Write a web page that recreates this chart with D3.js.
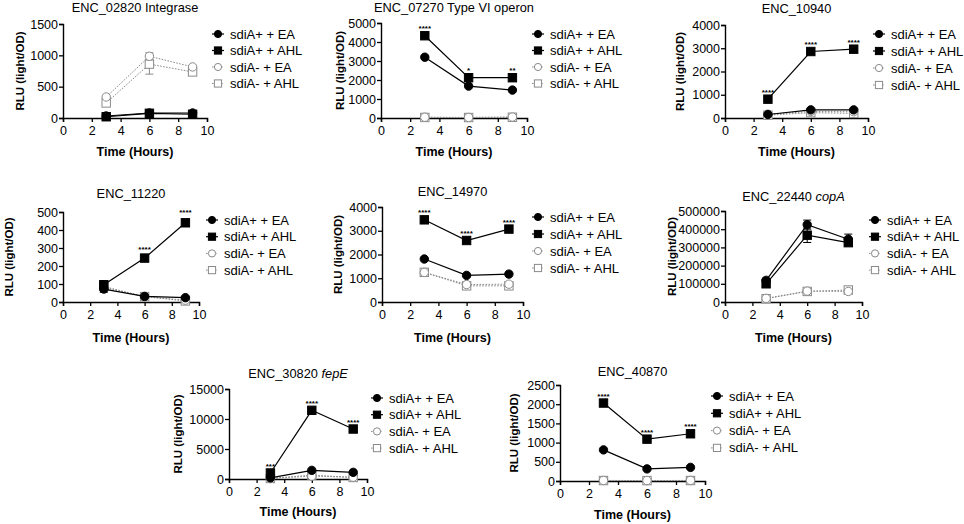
<!DOCTYPE html>
<html>
<head>
<meta charset="utf-8">
<script src="https://cdn.jsdelivr.net/npm/d3@7"></script>
<style>
  body { margin: 0; background: #fff; }
  svg { display: block; font-family: "Liberation Sans", Arial, Helvetica, sans-serif; }
</style>
</head>
<body>
<svg id="chart" width="964" height="524"></svg>
<script>
// ── shared categories ──
const TIMES = [3, 6, 9];
const SERIES = ['sdiA+ + EA', 'sdiA+ + AHL', 'sdiA- + EA', 'sdiA- + AHL'];
const X_TICKS = [0, 2, 4, 6, 8, 10];

// ── per-gene values: rows follow SERIES, columns follow TIMES ──
const enc02820 = [[32, 80, 80], [20, 75, 60], [335, 985, 815], [240, 860, 735]];
const enc02820Err = [[0, 0, 0], [0, 0, 0], [25, 55, 20], [25, 160, 20]];
const enc02820Stars = ['', '', ''];

const enc07270 = [[3200, 1680, 1470], [4330, 2120, 2120], [40, 30, 50], [30, 25, 40]];
const enc07270Err = [[0, 0, 0], [0, 0, 0], [0, 0, 0], [0, 0, 0]];
const enc07270Stars = ['****', '*', '**'];

const enc10940 = [[150, 350, 350], [810, 2860, 2960], [160, 280, 270], [120, 230, 200]];
const enc10940Err = [[0, 0, 0], [0, 0, 0], [0, 0, 0], [0, 0, 0]];
const enc10940Stars = ['****', '****', '****'];

const enc11220 = [[72, 31, 24], [96, 244, 440], [80, 30, 10], [86, 30, 6]];
const enc11220Err = [[18, 0, 0], [8, 10, 20], [0, 0, 0], [0, 0, 0]];
const enc11220Stars = ['', '****', '****'];

const enc14970 = [[1810, 1120, 1175], [3460, 2590, 3070], [1245, 735, 750], [1250, 680, 680]];
const enc14970Err = [[0, 0, 0], [0, 0, 0], [0, 0, 0], [0, 0, 0]];
const enc14970Stars = ['****', '****', '****'];

const enc22440 = [[119000, 425000, 345000], [100000, 367000, 326000], [20000, 60000, 58000], [18000, 58000, 66000]];
const enc22440Err = [[10000, 25000, 28000], [15000, 40000, 10000], [0, 0, 0], [0, 0, 0]];
const enc22440Stars = ['', '', ''];

const enc30820 = [[200, 1440, 1110], [1000, 11450, 8330], [100, 480, 300], [90, 650, 250]];
const enc30820Err = [[0, 0, 0], [0, 0, 0], [0, 0, 0], [0, 0, 0]];
const enc30820Stars = ['***', '****', '****'];

const enc40870 = [[810, 315, 355], [2030, 1090, 1230], [15, 12, 15], [12, 10, 12]];
const enc40870Err = [[0, 0, 0], [0, 0, 0], [0, 0, 0], [0, 0, 0]];
const enc40870Stars = ['****', '****', '****'];

// ── titles (second part italic) and y ticks ──
const TITLES = [
  ['ENC_02820 Integrase', ''], ['ENC_07270 Type VI operon', ''], ['ENC_10940', ''],
  ['ENC_11220', ''], ['ENC_14970', ''], ['ENC_22440 ', 'copA'],
  ['ENC_30820 ', 'fepE'], ['ENC_40870', ''],
];
const Y_TICKS = [
  [0, 500, 1000, 1500], [0, 1000, 2000, 3000, 4000, 5000], [0, 1000, 2000, 3000, 4000],
  [0, 100, 200, 300, 400, 500], [0, 1000, 2000, 3000, 4000], [0, 100000, 200000, 300000, 400000, 500000],
  [0, 5000, 10000, 15000], [0, 500, 1000, 1500, 2000, 2500],
];
const VALUES = [enc02820, enc07270, enc10940, enc11220, enc14970, enc22440, enc30820, enc40870];
const ERRORS = [enc02820Err, enc07270Err, enc10940Err, enc11220Err, enc14970Err, enc22440Err, enc30820Err, enc40870Err];
const STARS = [enc02820Stars, enc07270Stars, enc10940Stars, enc11220Stars, enc14970Stars, enc22440Stars, enc30820Stars, enc40870Stars];

// ── page layout of each panel (plot box, legend, label anchors) ──
const LAYOUT = [
  { x0: 63, x1: 207, top: 24, bot: 118, titleY: 12, legX: 218, legY: 34, legDy: 16.5, yLabX: 20, xLabY: 156 },
  { x0: 381, x1: 527, top: 23, bot: 118, titleY: 12, legX: 538, legY: 34, legDy: 16.5, yLabX: 340, xLabY: 156 },
  { x0: 725, x1: 868, top: 25, bot: 118, titleY: 13, legX: 879, legY: 34, legDy: 17, yLabX: 680, xLabY: 156 },
  { x0: 63, x1: 199, top: 212, bot: 302, titleY: 198, legX: 212, legY: 220, legDy: 16.7, yLabX: 9, xLabY: 342 },
  { x0: 382, x1: 523, top: 207, bot: 302, titleY: 196, legX: 538, legY: 217, legDy: 17, yLabX: 338, xLabY: 342 },
  { x0: 725, x1: 862, top: 211, bot: 302, titleY: 201, legX: 875, legY: 220, legDy: 16.7, yLabX: 672, xLabY: 342 },
  { x0: 229, x1: 367, top: 389, bot: 479, titleY: 378, legX: 377, legY: 398, legDy: 16.7, yLabX: 178, xLabY: 516 },
  { x0: 560, x1: 705, top: 385, bot: 481, titleY: 376, legX: 717, legY: 396, legDy: 17.3, yLabX: 514, xLabY: 519 },
];

const GREY = '#8a8a8a';
const STYLE = [
  { shape: 'circle', fill: '#000', stroke: '#000', line: '#000', dash: null },
  { shape: 'square', fill: '#000', stroke: '#000', line: '#000', dash: null },
  { shape: 'circle', fill: '#fff', stroke: GREY, line: GREY, dash: '1.6,1.4' },
  { shape: 'square', fill: '#fff', stroke: GREY, line: GREY, dash: '1.6,1.4' },
];

const svg = d3.select('#chart');

function marker(sel, st, x, y) {
  if (st.shape === 'circle') {
    sel.append('circle').attr('cx', x).attr('cy', y).attr('r', 4.2)
      .attr('fill', st.fill).attr('stroke', st.stroke).attr('stroke-width', 1);
  } else {
    sel.append('rect').attr('x', x - 4.2).attr('y', y - 4.2).attr('width', 8.4).attr('height', 8.4)
      .attr('fill', st.fill).attr('stroke', st.stroke).attr('stroke-width', 1);
  }
}

LAYOUT.forEach((L, i) => {
  const g = svg.append('g');
  const yMax = Y_TICKS[i][Y_TICKS[i].length - 1];
  const x = d3.scaleLinear().domain([0, 10]).range([L.x0, L.x1]);
  const y = d3.scaleLinear().domain([0, yMax]).range([L.bot, L.top]);

  // axes
  const ax = g.append('g').attr('transform', `translate(0,${L.bot})`)
    .call(d3.axisBottom(x).tickValues(X_TICKS).tickSize(4).tickPadding(2).tickFormat(d3.format('d')));
  const ay = g.append('g').attr('transform', `translate(${L.x0},0)`)
    .call(d3.axisLeft(y).tickValues(Y_TICKS[i]).tickSize(4).tickPadding(1).tickFormat(d3.format('d')));
  [ax, ay].forEach((a) => {
    a.select('.domain').attr('stroke-width', 1.4);
    a.selectAll('.tick line').attr('stroke-width', 1.3);
    a.selectAll('.tick text').attr('font-size', 12.5).attr('fill', '#000')
      .attr('font-family', '"Liberation Sans", Arial, sans-serif');
  });
  ax.selectAll('.tick text').attr('dy', '0.85em');

  // title
  const t = g.append('text').attr('x', (L.x0 + L.x1) / 2).attr('y', L.titleY)
    .attr('text-anchor', 'middle').attr('font-size', 12.8);
  t.append('tspan').text(TITLES[i][0]);
  if (TITLES[i][1]) t.append('tspan').attr('font-style', 'italic').text(TITLES[i][1]);

  // axis labels
  g.append('text').attr('x', (L.x0 + L.x1) / 2).attr('y', L.xLabY)
    .attr('text-anchor', 'middle').attr('font-size', 12.5).attr('font-weight', 'bold')
    .text('Time (Hours)');
  g.append('text')
    .attr('transform', `translate(${L.yLabX},${(L.top + L.bot) / 2}) rotate(-90)`)
    .attr('text-anchor', 'middle').attr('dominant-baseline', 'central')
    .attr('font-size', 11.5).attr('font-weight', 'bold')
    .text('RLU (light/OD)');

  // series: sdiA- drawn first so sdiA+ sits on top
  const line = d3.line().x((d) => x(d[0])).y((d) => y(d[1]));
  [3, 2, 1, 0].forEach((s) => {
    const st = STYLE[s];
    const pts = TIMES.map((tm, k) => [tm, VALUES[i][s][k]]);
    g.append('path').attr('d', line(pts)).attr('fill', 'none')
      .attr('stroke', st.line).attr('stroke-width', st.dash ? 1 : 1.2)
      .attr('stroke-dasharray', st.dash);
    TIMES.forEach((tm, k) => {
      const e = ERRORS[i][s][k];
      if (e > 0) {
        const cx = x(tm), hi = y(VALUES[i][s][k] + e), lo = y(Math.max(0, VALUES[i][s][k] - e));
        g.append('path').attr('d', `M${cx},${hi}V${lo}M${cx - 4},${hi}H${cx + 4}M${cx - 4},${lo}H${cx + 4}`)
          .attr('stroke', st.stroke).attr('stroke-width', 1).attr('fill', 'none');
      }
    });
    pts.forEach((p) => marker(g, st, x(p[0]), y(p[1])));
  });

  // significance stars above the highest point
  TIMES.forEach((tm, k) => {
    const s = STARS[i][k];
    if (!s) return;
    const top = d3.max(VALUES[i].map((row, r) => row[k] + ERRORS[i][r][k]));
    g.append('text').attr('x', x(tm)).attr('y', y(top) - 4.5)
      .attr('text-anchor', 'middle').attr('font-size', 8).attr('font-weight', 'bold')
      .text(s);
  });

  // legend
  SERIES.forEach((name, s) => {
    const st = STYLE[s];
    const ly = L.legY + s * L.legDy;
    g.append('line').attr('x1', L.legX - 6).attr('x2', L.legX + 6).attr('y1', ly).attr('y2', ly)
      .attr('stroke', st.line).attr('stroke-width', st.dash ? 1 : 1.2).attr('stroke-dasharray', st.dash);
    const m = g.append('g');
    if (st.shape === 'circle') {
      m.append('circle').attr('cx', L.legX).attr('cy', ly).attr('r', 3.6)
        .attr('fill', st.fill).attr('stroke', st.stroke);
    } else {
      m.append('rect').attr('x', L.legX - 3.6).attr('y', ly - 3.6).attr('width', 7.2).attr('height', 7.2)
        .attr('fill', st.fill).attr('stroke', st.stroke);
    }
    g.append('text').attr('x', L.legX + 12).attr('y', ly).attr('dominant-baseline', 'central')
      .attr('font-size', 13).text(name);
  });
});
</script>
</body>
</html>
